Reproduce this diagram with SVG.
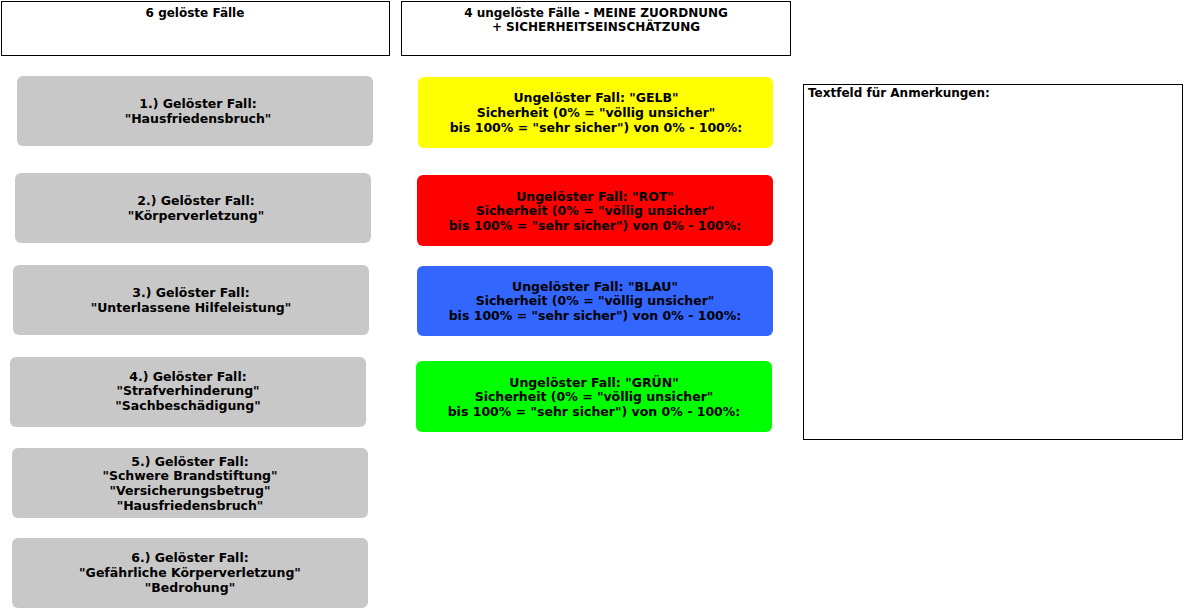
<svg xmlns="http://www.w3.org/2000/svg" width="1185" height="611" viewBox="0 0 1185 611">
<style>
text{font-family:"DejaVu Sans",Verdana,sans-serif;font-weight:bold;font-size:12.5px;fill:#000;text-anchor:middle}
.h{font-size:12px}
.hdr{fill:#fff;stroke:#000;stroke-width:1}
.g{fill:#c8c8c8}
.t{text-anchor:start;font-size:12px}
</style>
<rect width="1185" height="611" fill="#fff"/>
<g id="header-solved"><rect class="hdr" x="1.5" y="1.5" width="388" height="54"/><text class="h" x="195" y="17">6 gelöste Fälle</text></g>
<g id="header-unsolved"><rect class="hdr" x="401.5" y="1.5" width="389" height="54"/><text class="h" x="596" y="17">4 ungelöste Fälle - MEINE ZUORDNUNG</text><text class="h" x="596" y="31">+ SICHERHEITSEINSCHÄTZUNG</text></g>
<g id="case1"><rect class="g" x="17" y="76" width="356" height="70" rx="6"/><text x="198" y="108">1.) Gelöster Fall:</text><text x="198" y="123">"Hausfriedensbruch"</text></g>
<g id="case2"><rect class="g" x="15" y="173" width="356" height="70" rx="6"/><text x="196" y="205">2.) Gelöster Fall:</text><text x="196" y="220">"Körperverletzung"</text></g>
<g id="case3"><rect class="g" x="13" y="265" width="356" height="70" rx="6"/><text x="191" y="297">3.) Gelöster Fall:</text><text x="191" y="312">"Unterlassene Hilfeleistung"</text></g>
<g id="case4"><rect class="g" x="10" y="357" width="356" height="70" rx="6"/><text x="188" y="381">4.) Gelöster Fall:</text><text x="188" y="395">"Strafverhinderung"</text><text x="188" y="410">"Sachbeschädigung"</text></g>
<g id="case5"><rect class="g" x="12" y="448" width="356" height="70" rx="6"/><text x="190" y="466">5.) Gelöster Fall:</text><text x="190" y="480">"Schwere Brandstiftung"</text><text x="190" y="495">"Versicherungsbetrug"</text><text x="190" y="510">"Hausfriedensbruch"</text></g>
<g id="case6"><rect class="g" x="12" y="538" width="356" height="70" rx="6"/><text x="190" y="562">6.) Gelöster Fall:</text><text x="190" y="577">"Gefährliche Körperverletzung"</text><text x="190" y="592">"Bedrohung"</text></g>
<g id="gelb"><rect fill="#ffff00" x="418" y="77" width="355" height="71" rx="6"/><text x="596" y="102">Ungelöster Fall: "GELB"</text><text x="596" y="116.5">Sicherheit (0% = "völlig unsicher"</text><text x="596" y="131.5">bis 100% = "sehr sicher") von 0% - 100%:</text></g>
<g id="rot"><rect fill="#ff0000" x="417" y="175" width="356" height="71" rx="6"/><text x="595" y="200.5">Ungelöster Fall: "ROT"</text><text x="595" y="215">Sicherheit (0% = "völlig unsicher"</text><text x="595" y="230">bis 100% = "sehr sicher") von 0% - 100%:</text></g>
<g id="blau"><rect fill="#3366ff" x="417" y="266" width="356" height="70" rx="6"/><text x="595" y="290.5">Ungelöster Fall: "BLAU"</text><text x="595" y="305">Sicherheit (0% = "völlig unsicher"</text><text x="595" y="320">bis 100% = "sehr sicher") von 0% - 100%:</text></g>
<g id="gruen"><rect fill="#00ff00" x="416" y="361" width="356" height="71" rx="6"/><text x="594" y="386.5">Ungelöster Fall: "GRÜN"</text><text x="594" y="401">Sicherheit (0% = "völlig unsicher"</text><text x="594" y="416">bis 100% = "sehr sicher") von 0% - 100%:</text></g>
<g id="notes"><rect class="hdr" x="803.5" y="84.5" width="379" height="355"/><text class="t" x="808" y="97">Textfeld für Anmerkungen:</text></g>
<g id="connectors"/>
</svg>
